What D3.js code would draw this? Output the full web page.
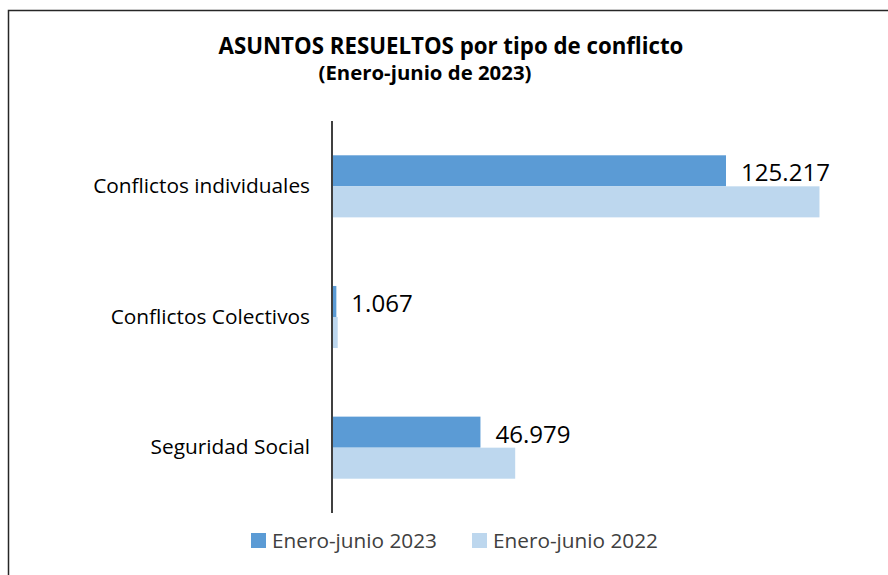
<!DOCTYPE html>
<html>
<head>
<meta charset="utf-8">
<script src="https://cdn.jsdelivr.net/npm/d3@7"></script>
<style>
  html, body { margin: 0; padding: 0; background: #fff; }
  svg { display: block; font-family: "Open Sans", Lato, sans-serif; }
</style>
</head>
<body>
<svg id="chart" width="888" height="575"></svg>
<script>
// ---- data ----
const categories = ["Conflictos individuales", "Conflictos Colectivos", "Seguridad Social"];
const seriesNames = ["Enero-junio 2023", "Enero-junio 2022"];
const values2023 = [125217, 1067, 46979];
const values2022 = [155000, 1500, 58050];
const valueLabels = ["125.217", "1.067", "46.979"];
const titleText = "ASUNTOS RESUELTOS por tipo de conflicto";
const subtitleText = "(Enero-junio de 2023)";

// ---- layout ----
const plot = { left: 333, top: 121, bottom: 513 };
const colors = ["#5B9BD5", "#BDD7EE"];
const FONT = "'Open Sans', Lato, sans-serif";

const svg = d3.select("#chart");

// size a text element so that its rendered width matches a target width
function fitSize(text, weight, target) {
  const t = svg.append("text").attr("font-family", FONT).attr("font-size", 20)
    .attr("font-weight", weight).text(text);
  const w = t.node().getComputedTextLength();
  t.remove();
  return 20 * target / w;
}

// outer border (extends past right/bottom edges as in reference)
svg.append("rect")
  .attr("x", 8.5).attr("y", 10.5)
  .attr("width", 950).attr("height", 650)
  .attr("fill", "none").attr("stroke", "#262626").attr("stroke-width", 1.5);

// title
svg.append("text")
  .attr("x", 451).attr("y", 54)
  .attr("text-anchor", "middle")
  .attr("font-size", fitSize(titleText, "bold", 465)).attr("font-weight", "bold").attr("fill", "#000")
  .text(titleText);
svg.append("text")
  .attr("x", 425).attr("y", 80)
  .attr("text-anchor", "middle")
  .attr("font-size", fitSize(subtitleText, "bold", 213)).attr("font-weight", "bold").attr("fill", "#000")
  .text(subtitleText);

// scales
const x = d3.scaleLinear().domain([0, 160000]).range([plot.left, plot.left + 160000 * 393 / 125217]);
const y = d3.scaleBand().domain(categories).range([plot.top, plot.bottom])
  .paddingInner(0.525).paddingOuter(0.2625);
const ySub = d3.scaleBand().domain([0, 1]).range([0, y.bandwidth()]);

const rows = categories.map((c, i) => ({ cat: c, vals: [values2023[i], values2022[i]], label: valueLabels[i] }));

const groups = svg.append("g").selectAll("g.cat").data(rows).join("g")
  .attr("class", "cat")
  .attr("transform", d => `translate(0,${y(d.cat)})`);

groups.selectAll("rect").data(d => d.vals.map((v, k) => ({ v, k }))).join("rect")
  .attr("x", x(0))
  .attr("y", d => ySub(d.k))
  .attr("width", d => x(d.v) - x(0))
  .attr("height", ySub.bandwidth())
  .attr("fill", d => colors[d.k]);

// value labels (for 2023 series)
const valSize = fitSize(valueLabels[0], "normal", 89);
groups.append("text")
  .attr("x", d => x(d.vals[0]) + 15)
  .attr("y", ySub(0) + ySub.bandwidth() / 2 + 2)
  .attr("dy", "0.35em")
  .attr("font-family", FONT)
  .attr("font-size", valSize).attr("fill", "#000")
  .text(d => d.label);

// category axis
const catSize = fitSize(categories[0], "normal", 217);
const axis = d3.axisLeft(y).tickSize(0).tickPadding(22);
const ax = svg.append("g").attr("transform", `translate(${plot.left - 1},0)`).call(axis);
ax.select(".domain").attr("stroke", "#000").attr("stroke-width", 1.5)
  .attr("d", `M0,${plot.top}V${plot.bottom}`);
ax.selectAll(".tick text").attr("font-size", catSize).attr("fill", "#000")
  .attr("font-family", FONT);

// legend
const legSize = fitSize(seriesNames[0], "normal", 165);
const legend = svg.append("g");
const legendX = [251, 472];
seriesNames.forEach((name, k) => {
  legend.append("rect")
    .attr("x", legendX[k]).attr("y", 533)
    .attr("width", 15).attr("height", 15)
    .attr("fill", colors[k]);
  legend.append("text")
    .attr("x", legendX[k] + 21).attr("y", 541).attr("dy", "0.35em")
    .attr("font-family", FONT)
    .attr("font-size", legSize).attr("fill", "#404040")
    .text(name);
});
</script>
</body>
</html>
